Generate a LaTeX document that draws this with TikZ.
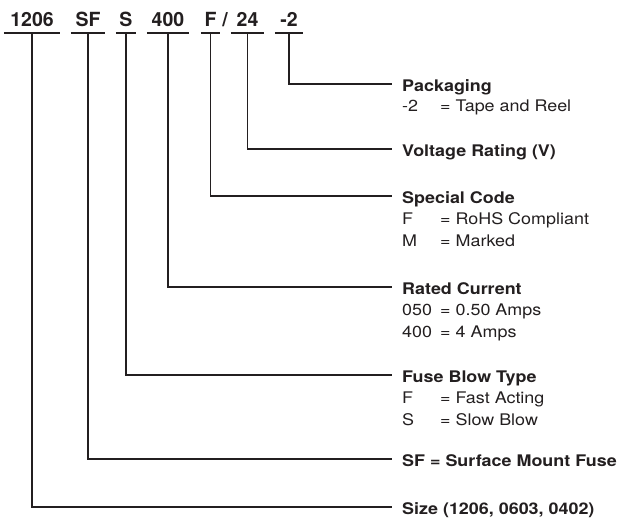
\documentclass[tikz,border=0pt]{standalone}
\usepackage{fontspec}
\setmainfont{TeX Gyre Heros}
\newfontfamily\labfont[FakeStretch=1.12]{TeX Gyre Heros}
\definecolor{ink}{HTML}{231F20}
\newcommand\subrow[2]{\makebox[38pt][l]{#1}= #2}
\begin{document}
\begin{tikzpicture}[x=1pt,y=-1pt,
 code/.style={anchor=base, inner sep=0pt, text depth=6.3pt, font=\fontsize{19.5}{20}\selectfont\bfseries, text=ink},
 uline/.style={line width=2.2pt, draw=ink},
 conn/.style={line width=1.1pt, draw=ink},
 head/.style={anchor=west, inner xsep=10pt, inner ysep=0pt, text height=14pt, text depth=0pt, font=\labfont\fontsize{16}{18}\selectfont\bfseries, text=ink},
 sub/.style={anchor=base west, inner sep=0pt, font=\labfont\fontsize{16}{18}\selectfont, text=ink}]
\path[use as bounding box] (0,0) rectangle (627,520);

% code parts
\node[code, minimum width=56pt] (c1) at (32,26.7) {1206};
\node[code, minimum width=34pt] (c2) at (88,26.7) {SF};
\node[code, minimum width=20pt] (c3) at (126,26.7) {S};
\node[code, minimum width=42pt] (c4) at (168,26.7) {400};
\node[code, minimum width=19pt] (c5) at (210.5,26.7) {F};
\node[code, text depth=0pt] (sl) at (225,26.7) {/};
\node[code, minimum width=33pt] (c6) at (247.5,26.7) {24};
\node[code, minimum width=28pt] (c7) at (289,26.7) {-2};
\foreach \c in {c1,c2,c3,c4,c5,c6,c7}
  \draw[uline] (\c.south west) -- (\c.south east);

% headings
\node[head] (h1) at (392,84) {Packaging};
\node[head] (h2) at (392,149) {Voltage Rating (V)};
\node[head] (h3) at (392,196) {Special Code};
\node[head] (h4) at (392,287) {Rated Current};
\node[head] (h5) at (392,375) {Fuse Blow Type};
\node[head] (h6) at (392,459) {SF = Surface Mount Fuse};
\node[head] (h7) at (392,507) {Size (1206, 0603, 0402)};

% details
\node[sub] (s1) at (402,111) {\subrow{-2}{Tape and Reel}};
\node[sub] (s2) at (402,224) {\subrow{F}{RoHS Compliant}};
\node[sub] (s3) at (402,246) {\subrow{M}{Marked}};
\node[sub] (s4) at (402,315) {\subrow{050}{0.50 Amps}};
\node[sub] (s5) at (402,337) {\subrow{400}{4 Amps}};
\node[sub] (s6) at (402,403) {\subrow{F}{Fast Acting}};
\node[sub] (s7) at (402,425) {\subrow{S}{Slow Blow}};

% connectors
\draw[conn] (c7.south) |- (h1.west);
\draw[conn] (c6.south) |- (h2.west);
\draw[conn] (c5.south) |- (h3.west);
\draw[conn] (c4.south) |- (h4.west);
\draw[conn] (c3.south) |- (h5.west);
\draw[conn] (c2.south) |- (h6.west);
\draw[conn] (c1.south) |- (h7.west);
\end{tikzpicture}
\end{document}
